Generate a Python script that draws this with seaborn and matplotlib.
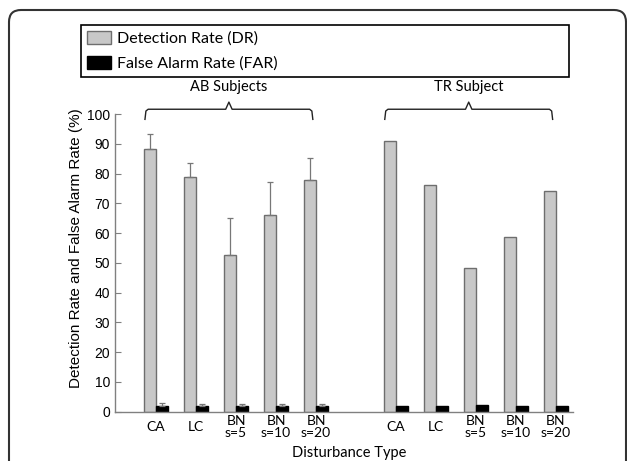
import numpy as np
import pandas as pd
import seaborn as sns
import matplotlib
matplotlib.use("Agg")
from matplotlib import pyplot as plt
from matplotlib.patches import FancyBboxPatch, Patch
from matplotlib.transforms import IdentityTransform

# values
groups = ["AB Subjects", "TR Subject"]
disturbances = ["CA", "LC", "BN\ns=5", "BN\ns=10", "BN\ns=20"]
metrics = ["Detection Rate (DR)", "False Alarm Rate (FAR)"]

ab_dr = [88.4, 78.8, 52.5, 66.1, 77.7]
ab_dr_err = [4.9, 4.7, 12.7, 11.1, 7.5]
ab_far = [2.0, 2.0, 2.0, 2.0, 2.0]
ab_far_err = [0.8, 0.5, 0.5, 0.5, 0.5]
tr_dr = [90.9, 76.3, 48.3, 58.7, 74.2]
tr_far = [2.0, 2.0, 2.3, 2.0, 2.0]

# long table for seaborn
rows = []
for g, dr, far, dr_e, far_e in [
    (groups[0], ab_dr, ab_far, ab_dr_err, ab_far_err),
    (groups[1], tr_dr, tr_far, [0] * 5, [0] * 5),
]:
    for d, a, b, ea, eb in zip(disturbances, dr, far, dr_e, far_e):
        rows.append({"key": g + "|" + d, "metric": metrics[0], "rate": a, "err": ea})
        rows.append({"key": g + "|" + d, "metric": metrics[1], "rate": b, "err": eb})
df = pd.DataFrame(rows)

gap = "gap"
order = [groups[0] + "|" + d for d in disturbances] + [gap] + [groups[1] + "|" + d for d in disturbances]

fig = plt.figure(figsize=(6.27, 4.61), dpi=100)
ax = fig.add_axes([0.1834, 0.1069, 0.7305, 0.6458])

palette = {metrics[0]: "#c8c8c8", metrics[1]: "black"}
sns.barplot(data=df, x="key", y="rate", hue="metric", order=order, hue_order=metrics,
            palette=palette, width=0.6, errorbar=None, legend=False, ax=ax, saturation=1)

# edges + error bars (upper only)
err_lookup = {(r.key, r.metric): r.err for r in df.itertuples()}
for cont, m in zip(ax.containers, metrics):
    for p in cont:
        p.set_edgecolor("#6e6e6e" if m == metrics[0] else "black")
        p.set_linewidth(1.0)
        xc = p.get_x() + p.get_width() / 2
        k = order[int(round(xc))]
        e = err_lookup.get((k, m), 0)
        if e > 0:
            ax.errorbar(xc, p.get_height(), yerr=[[0], [e]], fmt="none",
                        ecolor="#777777", elinewidth=0.9, capsize=2.5, capthick=0.9)

ax.set_ylim(0, 100)
ax.set_xlim(-1.03, 10.43)
ax.set_yticks(np.arange(0, 101, 10))
ax.set_xticks(range(len(order)))
ax.set_xticklabels([k.split("|")[1] if "|" in k else "" for k in order],
                   family="Lato", fontsize=10, linespacing=0.95)
for lab in ax.get_xticklabels():
    lab.set_verticalalignment("center")
ax.tick_params(axis="x", length=0, pad=11)
ax.tick_params(axis="y", direction="in", length=4, color="#808080", labelsize=10)
for lab in ax.get_yticklabels():
    lab.set_family("Liberation Sans")
# little stray tick in the gap
ax.set_xticks([order.index(gap)], minor=True)
ax.tick_params(axis="x", which="minor", direction="in", length=5, color="#808080")

for s in ["top", "right"]:
    ax.spines[s].set_visible(False)
for s in ["left", "bottom"]:
    ax.spines[s].set_color("#808080")
    ax.spines[s].set_linewidth(1.0)

ax.set_xlabel("")
ax.set_ylabel("Detection Rate and False Alarm Rate (%)", family="Liberation Sans", fontsize=11)
ax.yaxis.set_label_coords(-0.07, 0.55)

# group braces
for g in groups:
    idx = [order.index(g + "|" + d) for d in disturbances]
    x0, x1 = idx[0] - 0.28, idx[-1] - 0.08
    xm = (x0 + x1) / 2
    d = 0.08
    bx = [x0, x0 + d * 0.3, x0 + d, xm - d, xm, xm + d, x1 - d, x1 - d * 0.3, x1]
    by = [98.2, 101.0, 101.6, 101.6, 104.0, 101.6, 101.6, 101.0, 98.2]
    ax.plot(bx, by, color="#222222", lw=1.0, clip_on=False)
    ax.text(xm, 109.0, g, ha="center", va="center", family="Lato", fontsize=10.5, clip_on=False)

# legend box
handles = [Patch(facecolor="#c8c8c8", edgecolor="#6e6e6e"), Patch(facecolor="black", edgecolor="black")]
leg = fig.legend(handles, metrics, loc="upper left",
                 bbox_to_anchor=(81 / 627, 0.835, 488 / 627, 0.1106), mode="expand",
                 borderaxespad=0, fancybox=False, edgecolor="black", framealpha=1,
                 handlelength=1.5, handleheight=0.88, handletextpad=0.38,
                 labelspacing=0.62, borderpad=0.38, prop={"family": "Lato", "size": 11.5})
leg.get_frame().set_linewidth(1.2)

fig.text(349 / 627, 1 - 453 / 461, "Disturbance Type", ha="center", va="center",
         family="Lato", fontsize=10.5)

# rounded outer frame
frame = FancyBboxPatch((9, -40), 617, 491, boxstyle="round,pad=0,rounding_size=12",
                       transform=IdentityTransform(), facecolor="none",
                       edgecolor="#333333", linewidth=1.5)
fig.patches.append(frame)

fig.savefig("out.png", dpi=100)
